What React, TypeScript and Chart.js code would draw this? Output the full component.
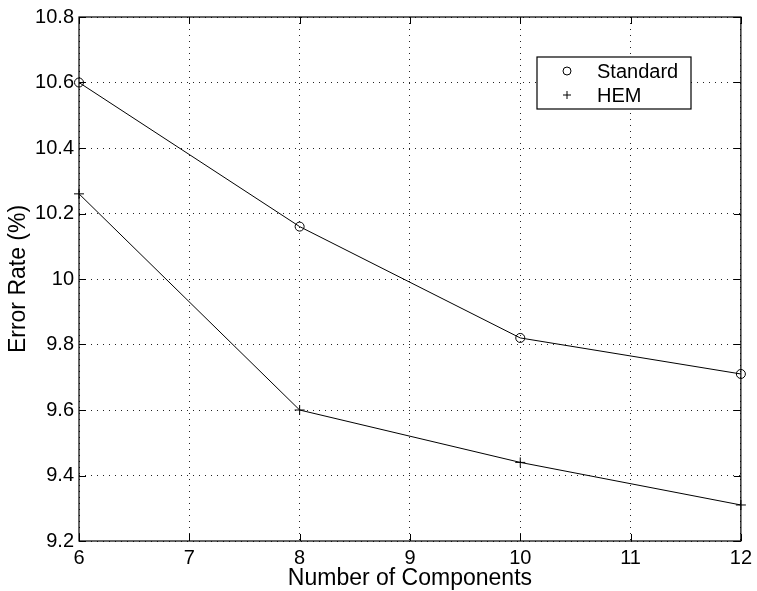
import React, { useEffect, useRef } from "react";
import { Chart, registerables } from "chart.js";

Chart.register(...registerables);

const components = [6, 8, 10, 12];
const standardValues = [10.6, 10.16, 9.82, 9.71];
const hemValues = [10.26, 9.6, 9.44, 9.31];
const seriesLabels = ["Standard", "HEM"];
const xTitle = "Number of Components";
const yTitle = "Error Rate (%)";

const FONT = '"Liberation Sans", Arial, Helvetica, sans-serif';

const boxPlugin = {
  id: "matlabBox",
  afterDraw(chart: any) {
    const { ctx, chartArea } = chart;
    const { left, right, top, bottom } = chartArea;
    const xs = chart.scales.x;
    const ys = chart.scales.y;
    ctx.save();
    ctx.strokeStyle = "#000";
    ctx.lineWidth = 1.2;
    ctx.setLineDash([]);
    ctx.strokeRect(left, top, right - left, bottom - top);
    const tl = 7;
    ctx.lineWidth = 1;
    ctx.beginPath();
    xs.ticks.forEach((t: any) => {
      const px = Math.round(xs.getPixelForValue(t.value)) + 0.5;
      ctx.moveTo(px, bottom);
      ctx.lineTo(px, bottom - tl);
      ctx.moveTo(px, top);
      ctx.lineTo(px, top + tl);
    });
    ys.ticks.forEach((t: any) => {
      const py = Math.round(ys.getPixelForValue(t.value)) + 0.5;
      ctx.moveTo(left, py);
      ctx.lineTo(left + tl, py);
      ctx.moveTo(right, py);
      ctx.lineTo(right - tl, py);
    });
    ctx.stroke();

    // legend box
    const lx = 537, ly = 57, lw = 154, lh = 52;
    ctx.fillStyle = "#fff";
    ctx.fillRect(lx, ly, lw, lh);
    ctx.lineWidth = 1.2;
    ctx.strokeStyle = "#000";
    ctx.strokeRect(lx, ly, lw, lh);
    const rows = [71, 95];
    ctx.font = `20px ${FONT}`;
    ctx.textBaseline = "middle";
    ctx.textAlign = "left";
    ctx.fillStyle = "#000";
    chart.data.datasets.forEach((ds: any, i: number) => {
      const y = rows[i];
      const mx = 567;
      ctx.lineWidth = 1;
      ctx.beginPath();
      if (ds.pointStyle === "circle") {
        ctx.arc(mx, y, 4, 0, Math.PI * 2);
      } else {
        ctx.moveTo(mx - 4, y);
        ctx.lineTo(mx + 4, y);
        ctx.moveTo(mx, y - 4);
        ctx.lineTo(mx, y + 4);
      }
      ctx.stroke();
      ctx.fillText(ds.label, 597, y + 1);
    });
    ctx.restore();
  },
};

export default function App() {
  const ref = useRef<HTMLCanvasElement | null>(null);
  useEffect(() => {
    if (!ref.current) return;
    const chart = new Chart(ref.current, {
      type: "line",
      data: {
        datasets: [
          {
            label: seriesLabels[0],
            data: components.map((c, i) => ({ x: c, y: standardValues[i] })),
            borderColor: "#000",
            borderWidth: 1,
            pointStyle: "circle",
            pointRadius: 4.5,
            pointBorderColor: "#000",
            pointBackgroundColor: "rgba(0,0,0,0)",
            pointBorderWidth: 1,
            clip: false as any,
          },
          {
            label: seriesLabels[1],
            data: components.map((c, i) => ({ x: c, y: hemValues[i] })),
            borderColor: "#000",
            borderWidth: 1,
            pointStyle: "cross",
            pointRadius: 5,
            pointBorderColor: "#000",
            pointBorderWidth: 1,
            clip: false as any,
          },
        ],
      },
      options: {
        animation: false,
        responsive: false,
        layout: { padding: { top: 16, right: 13, left: 0, bottom: 0 } },
        plugins: { legend: { display: false }, tooltip: { enabled: false } },
        scales: {
          x: {
            type: "linear",
            min: 6,
            max: 12,
            afterFit: (s: any) => {
              s.height = 50;
            },
            ticks: {
              stepSize: 1,
              padding: 5,
              color: "#000",
              font: { family: FONT, size: 20 },
              maxRotation: 0,
            },
            grid: {
              color: "#222",
              lineWidth: 1,
              drawTicks: false,
            },
            border: { display: false, dash: [1, 5] },
            title: {
              display: true,
              text: xTitle,
              color: "#000",
              font: { family: FONT, size: 23, lineHeight: 1 },
              padding: { top: 0, bottom: 0.5 },
            },
          },
          y: {
            type: "linear",
            min: 9.2,
            max: 10.8,
            afterFit: (s: any) => {
              s.width = 79;
            },
            ticks: {
              stepSize: 0.2,
              padding: 5,
              color: "#000",
              font: { family: FONT, size: 20 },
              callback: (v: any) => String(Number(Number(v).toFixed(1))),
            },
            grid: {
              color: "#222",
              lineWidth: 1,
              drawTicks: false,
            },
            border: { display: false, dash: [1, 5] },
            title: {
              display: true,
              text: yTitle,
              color: "#000",
              font: { family: FONT, size: 23, lineHeight: 1 },
              padding: { top: 7.5, bottom: 0 },
            },
          },
        },
      },
      plugins: [boxPlugin],
    });
    return () => chart.destroy();
  }, []);
  return (
    <div style={{ position: "absolute", left: 0, top: 0, width: 757, height: 591, background: "#fff" }}>
      <canvas ref={ref} width={757} height={591} />
    </div>
  );
}
